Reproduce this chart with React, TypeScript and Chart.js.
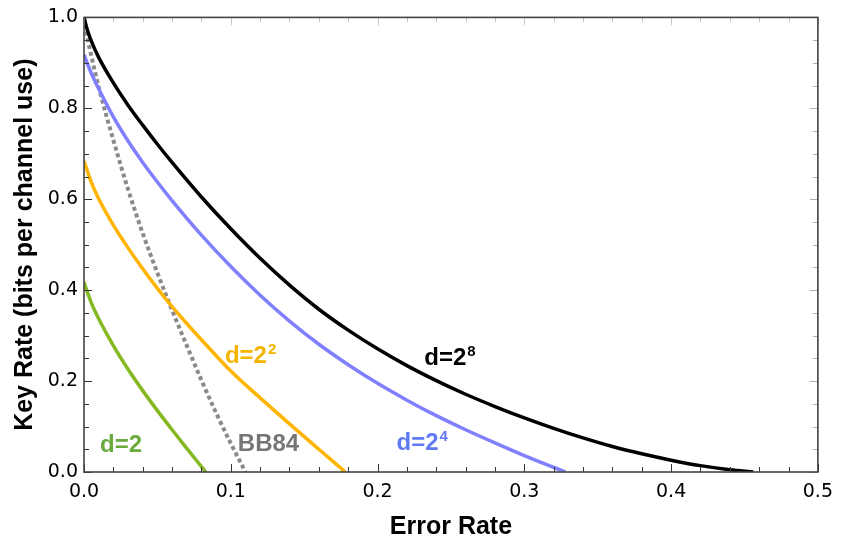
import React, { useEffect, useRef } from "react";
import { Chart, registerables } from "chart.js";

Chart.register(...registerables);

// ---- data ----
const d2X = [0, 0.005, 0.01, 0.02, 0.03, 0.04, 0.05, 0.06, 0.07, 0.08, 0.083];
const d2Y = [0.417, 0.372, 0.337, 0.278, 0.226, 0.179, 0.135, 0.093, 0.052, 0.012, 0];

const d4X = [0, 0.005, 0.01, 0.02, 0.03, 0.04, 0.05, 0.06, 0.08, 0.1, 0.12, 0.14, 0.16, 0.178];
const d4Y = [0.684, 0.637, 0.601, 0.543, 0.493, 0.447, 0.404, 0.364, 0.291, 0.222, 0.163, 0.106, 0.05, 0];

const d16X = [0, 0.005, 0.01, 0.02, 0.03, 0.04, 0.05, 0.06, 0.08, 0.1, 0.12, 0.14, 0.16, 0.18, 0.2, 0.22, 0.24, 0.26, 0.28, 0.3, 0.32, 0.328];
const d16Y = [0.918, 0.877, 0.843, 0.781, 0.728, 0.681, 0.638, 0.597, 0.521, 0.452, 0.389, 0.332, 0.281, 0.236, 0.195, 0.158, 0.124, 0.093, 0.064, 0.036, 0.01, 0];

const d256X = [0, 0.0025, 0.005, 0.01, 0.02, 0.03, 0.04, 0.05, 0.06, 0.08, 0.1, 0.12, 0.14, 0.16, 0.18, 0.2, 0.22, 0.24, 0.26, 0.28, 0.3, 0.32, 0.34, 0.36, 0.38, 0.4, 0.42, 0.44, 0.456];
const d256Y = [1.0, 0.97, 0.948, 0.912, 0.856, 0.807, 0.763, 0.721, 0.681, 0.605, 0.535, 0.47, 0.411, 0.358, 0.312, 0.271, 0.234, 0.201, 0.171, 0.144, 0.119, 0.096, 0.075, 0.056, 0.04, 0.026, 0.014, 0.005, 0];

const bb84X = [0, 0.0025, 0.005, 0.01, 0.02, 0.03, 0.04, 0.05, 0.06, 0.07, 0.08, 0.09, 0.1, 0.11];
const bb84Y = [1.0, 0.953, 0.915, 0.847, 0.73, 0.622, 0.525, 0.438, 0.356, 0.278, 0.202, 0.13, 0.063, 0];

const xRange = [0, 0.5];
const yRange = [0, 1.0];
const xMajorStep = 0.1;
const xMinorStep = 0.02;
const yMajorStep = 0.2;
const yMinorStep = 0.05;

const xTitle = "Error Rate";
const yTitle = "Key Rate (bits per channel use)";

// curve labels (anchor = centre / baseline, in data coordinates)
const curveLabels = [
  { main: "d=2", sup: "", x: 0.0253, y: 0.045, color: "#6aab3c" },
  { main: "BB84", sup: "", x: 0.1257, y: 0.046, color: "#767676" },
  { main: "d=2", sup: "2", x: 0.1135, y: 0.239, color: "#f5b400" },
  { main: "d=2", sup: "4", x: 0.2304, y: 0.048, color: "#6079f5" },
  { main: "d=2", sup: "8", x: 0.2493, y: 0.2346, color: "#000000" },
];

const toPts = (xs: number[], ys: number[]) => xs.map((x, i) => ({ x, y: ys[i] }));

const decorPlugin = {
  id: "decor",
  afterDraw(chart: any) {
    const { ctx, chartArea: a, scales } = chart;
    const xs = scales.x;
    const ys = scales.y;
    ctx.save();
    // ticks (inward)
    const nX = Math.round((xRange[1] - xRange[0]) / xMinorStep);
    for (let i = 0; i <= nX; i++) {
      const v = xRange[0] + i * xMinorStep;
      const px = Math.round(xs.getPixelForValue(v)) + 0.5;
      const major = i % Math.round(xMajorStep / xMinorStep) === 0;
      const len = major ? 8 : 5;
      ctx.lineWidth = 1;
      ctx.strokeStyle = "#333";
      ctx.beginPath();
      ctx.moveTo(px, a.bottom);
      ctx.lineTo(px, a.bottom - len);
      ctx.stroke();
      ctx.strokeStyle = "#c8c8c8";
      ctx.beginPath();
      ctx.moveTo(px, a.top);
      ctx.lineTo(px, a.top + len);
      ctx.stroke();
    }
    const nY = Math.round((yRange[1] - yRange[0]) / yMinorStep);
    for (let i = 0; i <= nY; i++) {
      const v = yRange[0] + i * yMinorStep;
      const py = Math.round(ys.getPixelForValue(v)) + 0.5;
      const major = i % Math.round(yMajorStep / yMinorStep) === 0;
      const len = major ? 8 : 5;
      ctx.lineWidth = 1;
      ctx.strokeStyle = "#333";
      ctx.beginPath();
      ctx.moveTo(a.left, py);
      ctx.lineTo(a.left + len, py);
      ctx.stroke();
      ctx.strokeStyle = "#b0b0b0";
      ctx.beginPath();
      ctx.moveTo(a.right, py);
      ctx.lineTo(a.right - len, py);
      ctx.stroke();
    }
    // frame
    ctx.strokeStyle = "#444";
    ctx.lineWidth = 1.6;
    ctx.strokeRect(a.left, a.top, a.right - a.left, a.bottom - a.top);

    // curve labels
    for (const l of curveLabels) {
      const mainFont = "bold 24px 'Liberation Sans', Arial, sans-serif";
      const supFont = "bold 15px 'Liberation Sans', Arial, sans-serif";
      ctx.font = mainFont;
      const wMain = ctx.measureText(l.main).width;
      ctx.font = supFont;
      const wSup = l.sup ? ctx.measureText(l.sup).width + 1 : 0;
      const cx = xs.getPixelForValue(l.x);
      const by = ys.getPixelForValue(l.y);
      const left = cx - (wMain + wSup) / 2;
      ctx.fillStyle = l.color;
      ctx.textBaseline = "alphabetic";
      ctx.textAlign = "left";
      ctx.font = mainFont;
      ctx.fillText(l.main, left, by);
      if (l.sup) {
        ctx.font = supFont;
        ctx.fillText(l.sup, left + wMain + 1, by - 9);
      }
    }

    // axis titles
    ctx.fillStyle = "#000";
    ctx.font = "bold 25px 'Liberation Sans', Arial, sans-serif";
    ctx.textAlign = "center";
    ctx.textBaseline = "middle";
    ctx.fillText(xTitle, (a.left + a.right) / 2, 527);
    ctx.translate(25, (a.top + a.bottom) / 2);
    ctx.rotate(-Math.PI / 2);
    ctx.fillText(yTitle, 0, 0);
    ctx.restore();
  },
};

export default function App() {
  const ref = useRef<HTMLCanvasElement | null>(null);
  useEffect(() => {
    if (!ref.current) return;
    const tickFont = { family: "'DejaVu Sans', sans-serif", size: 19 };
    const lineW = 3.5;
    const chart = new Chart(ref.current, {
      type: "line",
      data: {
        datasets: [
          { label: "d=2^8", data: toPts(d256X, d256Y), borderColor: "#000000", borderWidth: lineW },
          { label: "d=2^4", data: toPts(d16X, d16Y), borderColor: "#8080ff", borderWidth: lineW },
          { label: "d=2^2", data: toPts(d4X, d4Y), borderColor: "#ffb400", borderWidth: lineW },
          { label: "d=2", data: toPts(d2X, d2Y), borderColor: "#86b822", borderWidth: lineW },
          {
            label: "BB84",
            data: toPts(bb84X, bb84Y),
            borderColor: "#8a8a8a",
            borderWidth: 4,
            borderDash: [4, 3],
          },
        ],
      },
      options: {
        animation: false,
        responsive: true,
        maintainAspectRatio: false,
        devicePixelRatio: 1,
        layout: { padding: { top: 15, right: 18, left: 0, bottom: 0 } },
        elements: {
          point: { radius: 0 },
          line: { cubicInterpolationMode: "monotone", fill: false },
        },
        plugins: {
          legend: { display: false },
          tooltip: { enabled: false },
        },
        scales: {
          x: {
            type: "linear",
            min: xRange[0],
            max: xRange[1],
            grid: { display: false, drawTicks: false },
            border: { display: false },
            ticks: {
              stepSize: xMajorStep,
              color: "#000",
              font: tickFont,
              padding: 9,
              maxRotation: 0,
              callback: (v: any) => Number(v).toFixed(1),
            },
            afterFit: (s: any) => {
              s.height = 68;
            },
          },
          y: {
            type: "linear",
            min: yRange[0],
            max: yRange[1],
            grid: { display: false, drawTicks: false },
            border: { display: false },
            ticks: {
              stepSize: yMajorStep,
              color: "#000",
              font: tickFont,
              padding: 6,
              callback: (v: any) => Number(v).toFixed(1),
            },
            afterFit: (s: any) => {
              s.width = 84;
            },
          },
        },
      },
      plugins: [decorPlugin],
    });
    return () => chart.destroy();
  }, []);
  return (
    <div style={{ position: "absolute", left: 0, top: 0, width: 842, height: 540, background: "#fff" }}>
      <canvas ref={ref} />
    </div>
  );
}
